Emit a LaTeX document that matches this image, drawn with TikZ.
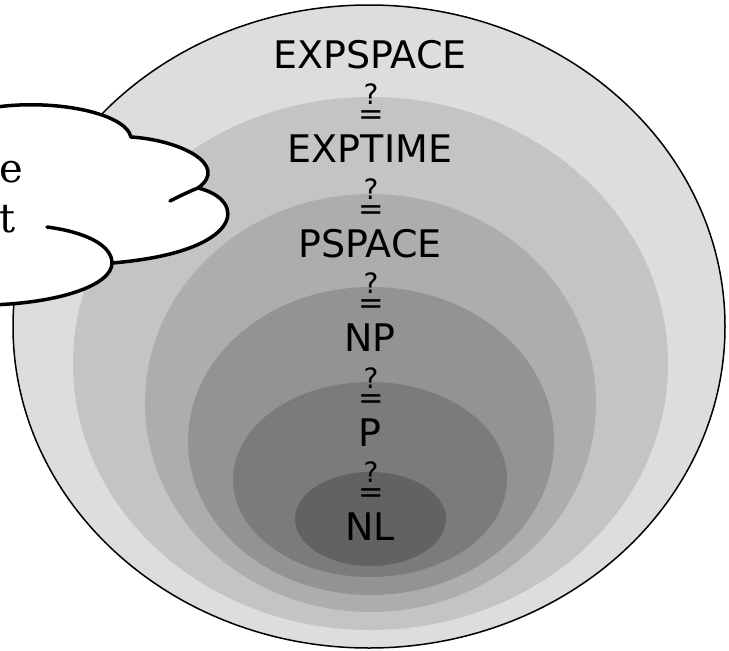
\documentclass[tikz,border=0pt]{standalone}
\usepackage{fontspec}
\setmainfont{DejaVu Sans}
\newfontfamily\cloudfont{DejaVu Serif}
\definecolor{c0}{HTML}{DDDDDD}
\definecolor{c1}{HTML}{C4C4C4}
\definecolor{c2}{HTML}{ADADAD}
\definecolor{c3}{HTML}{939393}
\definecolor{c4}{HTML}{7B7B7B}
\definecolor{c5}{HTML}{626262}
\newcommand{\qeqsym}{\vbox{\offinterlineskip\halign{\hfil##\hfil\cr
  \fontsize{28}{28}\selectfont ?\cr\noalign{\kern6pt}
  \fontsize{30.5}{30.5}\selectfont =\cr}}}
\tikzset{
  cls/.style={anchor=base, inner sep=0pt, font=\fontsize{38}{40}\selectfont},
  qeq/.style={anchor=base, inner sep=0pt},
  cloudtxt/.style={anchor=base east, inner sep=0pt, font=\cloudfont\fontsize{40}{42}\selectfont},
  cloudline/.style={line width=3.5pt, line cap=round, line join=round}
}
\begin{document}
\begin{tikzpicture}[x=1pt, y=-1pt]
\useasboundingbox (0,0) rectangle (729,651);
\clip (0,0) rectangle (729,651);
% nested classes
\fill[c0] (369,326.5) ellipse [x radius=356pt, y radius=321.5pt];
\fill[c1] (370.5,363.5) ellipse [x radius=297.5pt, y radius=266.5pt];
\fill[c2] (370.5,403) ellipse [x radius=225.5pt, y radius=209pt];
\fill[c3] (371,441) ellipse [x radius=183pt, y radius=154pt];
\fill[c4] (370,479.5) ellipse [x radius=137pt, y radius=97.5pt];
\fill[c5] (370.5,519) ellipse [x radius=75.5pt, y radius=47pt];
\draw[line width=1.5pt] (369,326.5) ellipse [x radius=356pt, y radius=321.5pt];
% labels
\node[cls] (expspace) at (370,68) {EXPSPACE};
\node[qeq] (q1) at (371,124.5) {\qeqsym};
\node[cls] (exptime) at (370,162.5) {EXPTIME};
\node[qeq] (q2) at (371,219) {\qeqsym};
\node[cls] (pspace) at (370,257) {PSPACE};
\node[qeq] (q3) at (371,313.5) {\qeqsym};
\node[cls] (np) at (370,351.5) {NP};
\node[qeq] (q4) at (371,408) {\qeqsym};
\node[cls] (p) at (370,446) {P};
\node[qeq] (q5) at (371,502.5) {\qeqsym};
\node[cls] (nl) at (370,540.5) {NL};
% cloud
\draw[cloudline, fill=white]
  (-10,108) .. controls (50,98) and (125,112) .. (131,137)
  .. controls (180,140) and (230,165) .. (198,188)
  .. controls (248,200) and (245,252) .. (112,263)
  .. controls (112,285) and (60,303) .. (-10,305) -- cycle;
\draw[cloudline] (170,201) .. controls (180,196) and (190,191) .. (198,188);
\draw[cloudline] (47,227) .. controls (85,232) and (112,245) .. (112,263);
\node[cloudtxt] (ce) at (23,182) {e};
\node[cloudtxt] (ct) at (16,232) {t};
\end{tikzpicture}
\end{document}
